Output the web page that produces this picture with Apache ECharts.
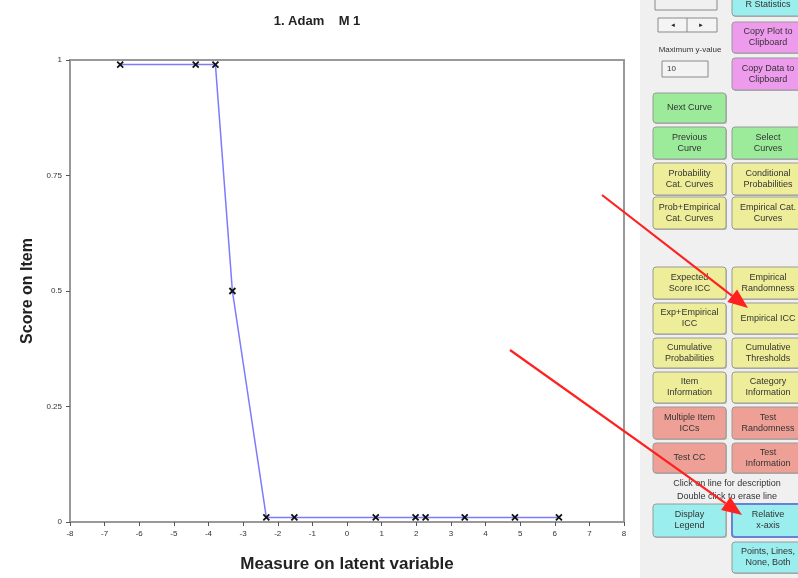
<!DOCTYPE html>
<html>
<head>
<meta charset="utf-8">
<script src="https://cdn.jsdelivr.net/npm/echarts@6/dist/echarts.min.js"></script>
<style>
  html, body { margin: 0; padding: 0; background: #fff; }
  #main { width: 798px; height: 578px; }
</style>
</head>
<body>
<div id="main"></div>
<script>
// empirical points of the item curve
var measures = [-6.55, -4.37, -3.8, -3.31, -2.33, -1.52, 0.83, 1.98, 2.27, 3.4, 4.85, 6.12];
var scores   = [0.99, 0.99, 0.99, 0.5, 0.01, 0.01, 0.01, 0.01, 0.01, 0.01, 0.01, 0.01];

var chartTitle = '1. Adam    M 1';
var xName = 'Measure on latent variable';
var yName = 'Score on Item';

var myChart = echarts.init(document.getElementById('main'));

var FONT = 'Liberation Sans, Arial, sans-serif';

// colours of the button groups
var GREEN = '#9beb9b', YELLOW = '#eeee9a', PINK = '#ee9bee', RED = '#eea096', TEAL = '#9beeee';

function button(x, y, w, h, fill, label, extra) {
	extra = extra || {};
	return {
		type: 'group',
		children: [
			{ type: 'rect', shape: { x: x + 1, y: y + 1, width: w, height: h, r: 3 }, style: { fill: '#b4b4b4' } },
			{ type: 'rect', shape: { x: x, y: y, width: w, height: h, r: 3 },
			  style: { fill: fill, stroke: extra.stroke || '#9a9a9a', lineWidth: extra.lw || 1 } },
			{ type: 'text', x: x + w / 2, y: y + h / 2,
			  style: { text: label, fill: '#333', font: '9px ' + FONT, align: 'center', verticalAlign: 'middle', lineHeight: 11 } }
		]
	};
}

function arrow(x1, y1, x2, y2) {
	var dx = x2 - x1, dy = y2 - y1, len = Math.sqrt(dx * dx + dy * dy);
	var ux = dx / len, uy = dy / len;
	var hl = 20, hw = 8;
	var bx = x2 - ux * hl, by = y2 - uy * hl;
	return {
		type: 'group', z: 100,
		children: [
			{ type: 'line', shape: { x1: x1, y1: y1, x2: bx, y2: by }, style: { stroke: '#ff2020', lineWidth: 2.2 } },
			{ type: 'polygon', shape: { points: [[x2, y2], [bx - uy * hw, by + ux * hw], [bx + uy * hw, by - ux * hw]] },
			  style: { fill: '#ff2020' } }
		]
	};
}

var C1 = 653, C2 = 732, W1 = 73, W2 = 72;

var panel = [
	{ type: 'rect', shape: { x: 640, y: 0, width: 158, height: 578 }, style: { fill: '#f0f0f0' } },
	// top controls
	{ type: 'rect', shape: { x: 655, y: -4, width: 62, height: 14 }, style: { fill: '#f0f0f0', stroke: '#8a8a8a', lineWidth: 1 } },
	{ type: 'rect', shape: { x: 658, y: 18, width: 59, height: 14 }, style: { fill: '#f4f4f4', stroke: '#8a8a8a', lineWidth: 1 } },
	{ type: 'line', shape: { x1: 687, y1: 18, x2: 687, y2: 32 }, style: { stroke: '#8a8a8a' } },
	{ type: 'text', x: 673, y: 25, style: { text: '◄', fill: '#222', font: '6px ' + FONT, align: 'center', verticalAlign: 'middle' } },
	{ type: 'text', x: 701, y: 25, style: { text: '►', fill: '#222', font: '6px ' + FONT, align: 'center', verticalAlign: 'middle' } },
	{ type: 'text', x: 690, y: 50, style: { text: 'Maximum y-value', fill: '#333', font: '8px ' + FONT, align: 'center', verticalAlign: 'middle' } },
	{ type: 'rect', shape: { x: 662, y: 61, width: 46, height: 16 }, style: { fill: '#f3f3f3', stroke: '#8a8a8a', lineWidth: 1 } },
	{ type: 'text', x: 667, y: 69, style: { text: '10', fill: '#333', font: '8px ' + FONT, verticalAlign: 'middle' } },
	button(C2, -6, W2, 22, TEAL, 'R Statistics'),
	button(C2, 22, W2, 31, PINK, 'Copy Plot to\nClipboard'),
	button(C2, 58, W2, 32, PINK, 'Copy Data to\nClipboard'),
	button(C1, 93, W1, 30, GREEN, 'Next Curve'),
	button(C1, 127, W1, 32, GREEN, 'Previous\nCurve'),
	button(C2, 127, W2, 32, GREEN, 'Select\nCurves'),
	button(C1, 163, W1, 32, YELLOW, 'Probability\nCat. Curves'),
	button(C2, 163, W2, 32, YELLOW, 'Conditional\nProbabilities'),
	button(C1, 197, W1, 32, YELLOW, 'Prob+Empirical\nCat. Curves'),
	button(C2, 197, W2, 32, YELLOW, 'Empirical Cat.\nCurves'),
	button(C1, 267, W1, 32, YELLOW, 'Expected\nScore ICC'),
	button(C2, 267, W2, 32, YELLOW, 'Empirical\nRandomness'),
	button(C1, 303, W1, 31, YELLOW, 'Exp+Empirical\nICC'),
	button(C2, 303, W2, 31, YELLOW, 'Empirical ICC'),
	button(C1, 338, W1, 30, YELLOW, 'Cumulative\nProbabilities'),
	button(C2, 338, W2, 30, YELLOW, 'Cumulative\nThresholds'),
	button(C1, 372, W1, 31, YELLOW, 'Item\nInformation'),
	button(C2, 372, W2, 31, YELLOW, 'Category\nInformation'),
	button(C1, 407, W1, 32, RED, 'Multiple Item\nICCs'),
	button(C2, 407, W2, 32, RED, 'Test\nRandomness'),
	button(C1, 443, W1, 30, RED, 'Test CC'),
	button(C2, 443, W2, 30, RED, 'Test\nInformation'),
	{ type: 'text', x: 727, y: 484, style: { text: 'Click on line for description', fill: '#333', font: '9px ' + FONT, align: 'center', verticalAlign: 'middle' } },
	{ type: 'text', x: 727, y: 497, style: { text: 'Double click to erase line', fill: '#333', font: '9px ' + FONT, align: 'center', verticalAlign: 'middle' } },
	button(C1, 504, W1, 33, TEAL, 'Display\nLegend'),
	button(C2, 504, W2, 33, TEAL, 'Relative\nx-axis', { stroke: '#6b7fd6', lw: 2 }),
	button(C2, 542, W2, 31, TEAL, 'Points, Lines,\nNone, Both'),
	arrow(602, 195, 748, 308),
	arrow(510, 350, 742, 515)
];

var option = {
	backgroundColor: '#fff',
	animation: false,
	title: {
		text: chartTitle,
		left: 312, top: 10,
		textAlign: 'center',
		textStyle: { fontFamily: FONT, fontSize: 13, fontWeight: 'bold', color: '#222' }
	},
	grid: {
		left: 70, right: 174, top: 60, bottom: 56,
		show: true, borderColor: '#999', borderWidth: 2, backgroundColor: 'transparent'
	},
	xAxis: {
		type: 'value', min: -8, max: 8, interval: 1,
		name: xName, nameLocation: 'middle', nameGap: 34,
		nameTextStyle: { fontFamily: FONT, fontSize: 17, fontWeight: 'bold', color: '#222' },
		axisLine: { show: true, onZero: false, lineStyle: { color: '#999', width: 2 } },
		axisTick: { show: true, inside: false, length: 4, lineStyle: { color: '#555', width: 1 } },
		axisLabel: { fontFamily: FONT, fontSize: 8, color: '#333', margin: 8 },
		splitLine: { show: false }
	},
	yAxis: {
		type: 'value', min: 0, max: 1, interval: 0.25,
		name: yName, nameLocation: 'middle', nameGap: 34, nameRotate: 90,
		nameTextStyle: { fontFamily: FONT, fontSize: 16, fontWeight: 'bold', color: '#222' },
		axisLine: { show: true, onZero: false, lineStyle: { color: '#999', width: 2 } },
		axisTick: { show: true, length: 4, lineStyle: { color: '#555', width: 1 } },
		axisLabel: { fontFamily: FONT, fontSize: 8, color: '#333', margin: 8 },
		splitLine: { show: false }
	},
	graphic: panel,
	series: [{
		type: 'line',
		data: measures.map(function (m, i) { return [m, scores[i]]; }),
		lineStyle: { color: '#7b7bff', width: 1.5 },
		symbol: 'path://M0,0L10,10M10,0L0,10',
		symbolSize: 6,
		showAllSymbol: true,
		itemStyle: { color: '#111', borderColor: '#111', borderWidth: 1.8 },
		z: 5
	}]
};

myChart.setOption(option);
</script>
</body>
</html>
